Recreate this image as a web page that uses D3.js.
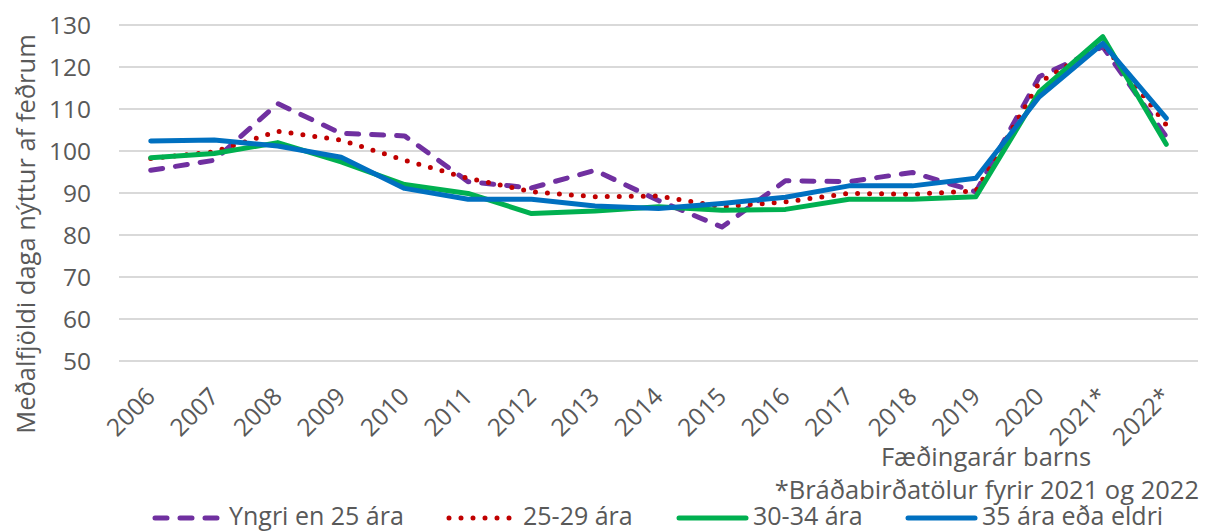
<!DOCTYPE html>
<html>
<head>
<meta charset="utf-8">
<script src="https://cdn.jsdelivr.net/npm/d3@7"></script>
<style>
  body { margin: 0; background: #fff; }
  svg text { font-family: "Open Sans", Lato, sans-serif; fill: #595959; }
</style>
</head>
<body>
<div id="chart"></div>
<script>
const years = ["2006", "2007", "2008", "2009", "2010", "2011", "2012", "2013", "2014",
  "2015", "2016", "2017", "2018", "2019", "2020", "2021*", "2022*"];
const yTicks = [50, 60, 70, 80, 90, 100, 110, 120, 130];

const under25 = [95.4, 97.8, 111.3, 104.2, 103.6, 92.7, 91.2, 95.4, 88.2, 81.9, 92.9, 92.7, 94.9, 90.3, 117.7, 124.8, 103.4];
const age25to29 = [98.2, 99.8, 104.7, 102.6, 97.8, 93.5, 90.3, 89.1, 89.3, 86.7, 87.9, 89.9, 89.7, 90.5, 116.3, 125.5, 106.2];
const age30to34 = [98.4, 99.4, 102.0, 97.4, 92.0, 89.9, 85.1, 85.7, 86.7, 85.9, 86.1, 88.5, 88.5, 89.1, 114.1, 127.2, 101.6];
const age35plus = [102.4, 102.6, 101.2, 98.5, 91.1, 88.5, 88.5, 86.9, 86.3, 87.5, 89.0, 91.7, 91.7, 93.5, 112.9, 125.6, 107.8];

const seriesNames = ["Yngri en 25 ára", "25-29 ára", "30-34 ára", "35 ára eða eldri"];

const series = [
  { name: seriesNames[0], values: under25, color: "#7030A0", dash: "12,13" },
  { name: seriesNames[1], values: age25to29, color: "#C00000", dash: "0,12" },
  { name: seriesNames[2], values: age30to34, color: "#00B050", dash: null },
  { name: seriesNames[3], values: age35plus, color: "#0070C0", dash: null }
];

const width = 1209;
const height = 532;
const plot = { left: 119, right: 1198, top: 25, bottom: 361 };
const tickSize = 24.5;
const textSize = 25.5;

const svg = d3.select("#chart")
  .append("svg")
  .attr("width", width)
  .attr("height", height);

const xscale = d3.scaleBand()
  .domain(years)
  .range([plot.left, plot.right]);

const yscale = d3.scaleLinear()
  .domain([50, 130])
  .range([plot.bottom, plot.top]);

// gridlines
svg.append("g")
  .selectAll("line")
  .data(yTicks)
  .join("line")
  .attr("x1", plot.left)
  .attr("x2", plot.right)
  .attr("y1", (d) => yscale(d))
  .attr("y2", (d) => yscale(d))
  .attr("stroke", "#D9D9D9")
  .attr("stroke-width", 2);

const y_axis = d3.axisLeft(yscale)
  .tickValues(yTicks)
  .tickSize(0)
  .tickPadding(0);

svg.append("g")
  .attr("transform", "translate(91,0)")
  .call(y_axis)
  .call((g) => g.select(".domain").remove())
  .selectAll("text")
  .attr("font-size", tickSize)
  .attr("dy", "0.36em");

const x_axis = d3.axisBottom(xscale).tickSize(0).tickPadding(0);

svg.append("g")
  .attr("transform", `translate(0, ${plot.bottom})`)
  .call(x_axis)
  .call((g) => g.select(".domain").remove())
  .selectAll("text")
  .attr("font-size", tickSize)
  .attr("text-anchor", "end")
  .attr("dy", 0)
  .attr("y", 0)
  .attr("transform", "translate(6, 37) rotate(-45)");

const cx = (i) => xscale(years[i]) + xscale.bandwidth() / 2;
const line = d3.line().x((d, i) => cx(i)).y((d) => yscale(d));

svg.append("g")
  .selectAll("path")
  .data(series)
  .join("path")
  .attr("d", (d) => line(d.values))
  .attr("fill", "none")
  .attr("stroke", (d) => d.color)
  .attr("stroke-width", 5)
  .attr("stroke-linecap", "round")
  .attr("stroke-linejoin", "round")
  .attr("stroke-dasharray", (d) => d.dash);

// y axis title
svg.append("text")
  .attr("transform", "translate(35, 234) rotate(-90)")
  .attr("text-anchor", "middle")
  .attr("font-size", textSize)
  .text("Meðalfjöldi daga nýttur af feðrum");

svg.append("text")
  .attr("x", 986)
  .attr("y", 466)
  .attr("text-anchor", "middle")
  .attr("font-size", textSize)
  .text("Fæðingarár barns");

svg.append("text")
  .attr("x", 1199)
  .attr("y", 499)
  .attr("text-anchor", "end")
  .attr("font-size", textSize)
  .text("*Bráðabirðatölur fyrir 2021 og 2022");

// legend
const legendX = [152, 446, 676, 905];
const legend = svg.append("g")
  .selectAll("g")
  .data(series)
  .join("g")
  .attr("transform", (d, i) => `translate(${legendX[i]}, 518)`);

legend.append("line")
  .attr("x1", 3)
  .attr("x2", 70)
  .attr("stroke", (d) => d.color)
  .attr("stroke-width", 5)
  .attr("stroke-linecap", "round")
  .attr("stroke-dasharray", (d) => d.dash);

legend.append("text")
  .attr("x", 77)
  .attr("y", 7)
  .attr("font-size", 25)
  .text((d) => d.name);
</script>
</body>
</html>
